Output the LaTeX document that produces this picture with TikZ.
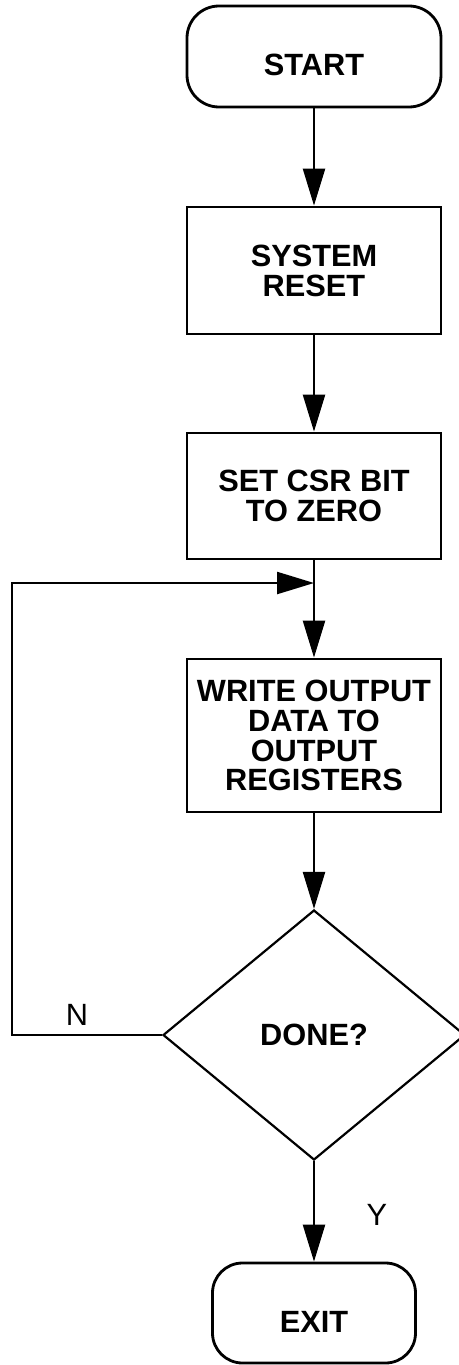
\documentclass[tikz,border=0pt]{standalone}
\usepackage{fontspec}
\setmainfont{Liberation Sans}
\usetikzlibrary{arrows.meta,shapes.geometric}

\begin{document}
\begin{tikzpicture}[
  box/.style={draw, line width=1.6pt, minimum width=5.08cm, inner sep=2pt, align=center, font=\bfseries\fontsize{17.5}{17}\selectfont, execute at begin node={\rule{0pt}{22pt}}},
  term/.style={box, rounded corners=0.64cm},
  decision/.style={draw, diamond, line width=1.25pt, minimum width=6.04cm, minimum height=5cm, inner sep=0pt, font=\bfseries\fontsize{17.5}{17}\selectfont},
  arr/.style={-{Triangle[length=21pt,width=12.5pt]}, line width=1.3pt},
  lbl/.style={font=\fontsize{17.5}{17}\selectfont},
]
\useasboundingbox (0,0) rectangle (9.18,-27.3);
\node[term, minimum height=2.02cm] (start) at (6.28,-1.13) {START};
\node[box, minimum height=2.54cm] (reset) at (6.28,-5.41) {SYSTEM\\RESET};
\node[box, minimum height=2.52cm] (csr) at (6.28,-9.92) {SET CSR BIT\\TO ZERO};
\node[box, minimum height=3.06cm] (write) at (6.28,-14.71) {WRITE OUTPUT\\DATA TO\\OUTPUT\\REGISTERS};
\node[decision] (done) at (6.28,-20.7) {DONE?};
\node[term, minimum width=4.06cm, minimum height=2cm, rounded corners=0.6cm] (exit) at (6.28,-26.26) {EXIT};
\coordinate (join) at (6.28,-11.66);
\coordinate (back) at (0.24,-11.66);
\node[lbl] (no) at (1.54,-20.3) {N};
\node[lbl] (yes) at (7.54,-24.3) {Y};
\draw[arr] (start) -- (reset);
\draw[arr] (reset) -- (csr);
\draw[arr] (csr) -- (write);
\draw[arr] (done.west) -| (back) -- (join);
\draw[arr] (write) -- (done);
\draw[arr] (done) -- (exit);
\end{tikzpicture}
\end{document}
